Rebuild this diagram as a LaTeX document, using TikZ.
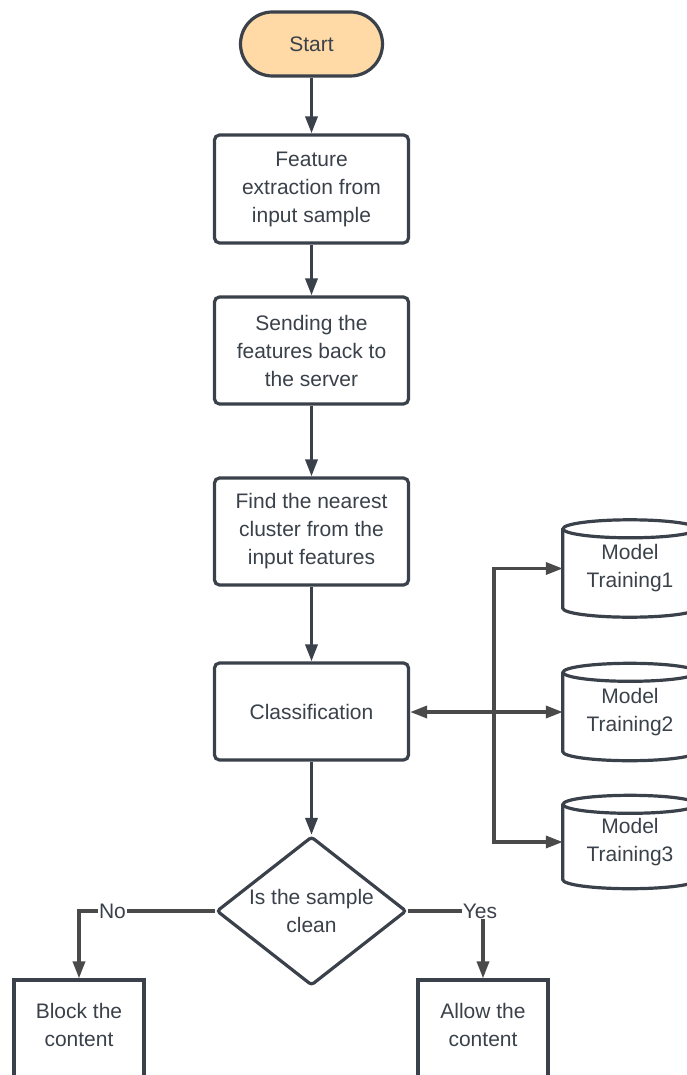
\documentclass[tikz,border=0pt]{standalone}
\usepackage{fontspec}
\setmainfont{Liberation Sans}
\usetikzlibrary{shapes.geometric,arrows.meta}
\definecolor{ink}{HTML}{3A414A}
\definecolor{wire}{HTML}{4A4A4A}
\definecolor{peach}{HTML}{FFDAA6}

% cylinder outline drawn round an invisible rectangular node
\newcommand\drumshape[1]{%
  \draw[ink,line width=3.2pt] ([yshift=-9pt]#1.north) ellipse[x radius=67pt,y radius=9pt];
  \draw[ink,line width=3.2pt] ([yshift=-9pt]#1.north west) -- ([yshift=9pt]#1.south west)
    arc[start angle=180,end angle=360,x radius=67pt,y radius=9pt] -- ([yshift=-9pt]#1.north east);
}

\begin{document}
\begin{tikzpicture}[x=1pt,y=-1pt,
  txt/.style={font=\fontsize{21}{28}\selectfont, text=ink, align=center},
  box/.style={txt, draw=ink, line width=3.2pt, fill=white, rounded corners=5pt,
              minimum width=194pt, inner sep=0pt},
  plainbox/.style={draw=ink, line width=3.2pt, minimum width=130pt, minimum height=110pt, inner sep=0pt},
  drum/.style={txt, minimum width=134pt, inner sep=0pt},
  flow/.style={draw=ink, line width=3.4pt, -{Triangle[length=17pt,width=12pt]}},
  link/.style={draw=wire, line width=3.4pt, -{Triangle[length=17pt,width=12pt]}},
  twoway/.style={draw=wire, line width=3.4pt, {Triangle[length=17pt,width=12pt]}-{Triangle[length=17pt,width=12pt]}},
  lbl/.style={txt, fill=white, inner sep=1pt}]
\useasboundingbox (0,0) rectangle (686,1075);

% main column
\node[txt, draw=ink, line width=3.2pt, fill=peach, minimum width=142pt, minimum height=64pt,
      rounded corners=32pt, inner sep=0pt] (start) at (311.5,44) {Start};
\node[box, minimum height=108pt] (feat) at (311.5,189) {Feature\\extraction from\\input sample};
\node[box, minimum height=107pt] (send) at (311.5,350.5) {Sending the\\features back to\\the server};
\node[box, minimum height=107pt] (near) at (311.5,531.5) {Find the nearest\\cluster from the\\input features};
\node[box, minimum height=97pt] (cls) at (311.5,711.5) {Classification};
\node[diamond, draw=ink, line width=3.2pt, fill=white, minimum width=190pt, minimum height=149pt,
      inner sep=0pt, rounded corners=3pt] (dec) at (311.5,911) {};
\node[txt] (dectxt) at (dec.center) {Is the sample\\clean};

% outcome boxes
\node[plainbox] (blk) at (79,1035) {};
\node[txt] (blktxt) at (79,1025) {Block the\\content};
\node[plainbox] (alw) at (483,1035) {};
\node[txt] (alwtxt) at (483,1025) {Allow the\\content};

% model stores
\node[drum, minimum height=97pt] (m1) at (630,568.5) {Model\\Training1};
\node[drum, minimum height=97pt] (m2) at (630,712) {Model\\Training2};
\node[drum, minimum height=93pt] (m3) at (630,842) {Model\\Training3};
\drumshape{m1}
\drumshape{m2}
\drumshape{m3}

% connectors
\draw[flow] (start.south) -- (feat.north);
\draw[flow] (feat.south) -- (send.north);
\draw[flow] (send.south) -- (near.north);
\draw[flow] (near.south) -- (cls.north);
\draw[flow] (cls.south) -- (dec.north);

\draw[twoway] (cls.east |- m2.west) -- (m2.west);
\coordinate (hub) at (494,712);
\draw[link] (hub) |- (m1.west);
\draw[link] (hub) |- (m3.west);

\draw[link] (dec.west) -| node[lbl, pos=0.377] {No} (blk.north);
\draw[link] (dec.east) -| node[lbl, pos=0.5, xshift=-3pt] {Yes} (alw.north);
\end{tikzpicture}
\end{document}
